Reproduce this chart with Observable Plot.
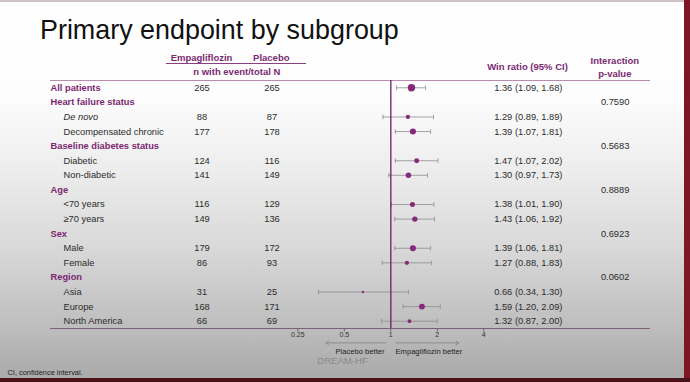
<!DOCTYPE html>
<html>
<head>
<meta charset="utf-8">
<script src="https://cdn.jsdelivr.net/npm/d3@7"></script>
<script src="https://cdn.jsdelivr.net/npm/@observablehq/plot@0.6"></script>
<style>
html, body { margin: 0; padding: 0; }
body {
  width: 690px; height: 382px; overflow: hidden; position: relative;
  font-family: "Liberation Sans", Arial, sans-serif;
  background: linear-gradient(to bottom, #ffffff 0px, #fdfdfd 95px, #ededed 170px, #d8d8d8 250px, #c0c0c0 320px, #aaaaaa 377px);
}
#title { height: 50px; box-sizing: border-box; padding: 15px 0 0 40px; font-size: 26.9px; line-height: 30px; color: #111; white-space: nowrap; }
#header { position: relative; height: 28px; }
#header span { position: absolute; white-space: nowrap; font-weight: bold; color: #7b2a71; font-size: 9.5px; line-height: 1; transform: translate(-50%, -50%); }
#under { position: absolute; left: 166px; width: 140px; top: 12.5px; border-top: 1px solid #8b3f82; }
#chart { position: relative; }
.edge-top { position: absolute; left: 0; top: 0; width: 690px; height: 2px; background: #cfc3c5; }
.edge-right { position: absolute; right: 0; top: 0; width: 6px; height: 382px; background: #7e1626; }
.edge-bottom { position: absolute; left: 0; bottom: 0; width: 690px; height: 4px; background: #4a1119; }
</style>
</head>
<body>
<div class="edge-top"></div>
<div id="title">Primary endpoint by subgroup</div>
<div id="header">
  <span style="left:201.5px; top:7.7px;">Empagliflozin</span>
  <span style="left:271.3px; top:7.7px;">Placebo</span>
  <div id="under"></div>
  <span style="left:236.8px; top:22px;">n with event/total N</span>
  <span style="left:527.5px; top:17px;">Win ratio (95% CI)</span>
  <span style="left:614.8px; top:11px;">Interaction</span>
  <span style="left:614.8px; top:24px;">p-value</span>
</div>
<div id="chart"></div>
<div class="edge-right"></div>
<div class="edge-bottom"></div>
<script>
// ---- data ----
const subgroups = ["All patients", "Heart failure status", "De novo", "Decompensated chronic",
  "Baseline diabetes status", "Diabetic", "Non-diabetic", "Age", "<70 years", "\u226570 years",
  "Sex", "Male", "Female", "Region", "Asia", "Europe", "North America"];
const rowType = ["group", "group", "sub", "sub", "group", "sub", "sub", "group", "sub", "sub",
  "group", "sub", "sub", "group", "sub", "sub", "sub"];
const italicLabels = ["De novo"];
const empaEvents    = [265, null, 88, 177, null, 124, 141, null, 116, 149, null, 179, 86, null, 31, 168, 66];
const placeboEvents = [265, null, 87, 178, null, 116, 149, null, 129, 136, null, 172, 93, null, 25, 171, 69];
const winRatio = [1.36, null, 1.29, 1.39, null, 1.47, 1.30, null, 1.38, 1.43, null, 1.39, 1.27, null, 0.66, 1.59, 1.32];
const ciLow    = [1.09, null, 0.89, 1.07, null, 1.07, 0.97, null, 1.01, 1.06, null, 1.06, 0.88, null, 0.34, 1.20, 0.87];
const ciHigh   = [1.68, null, 1.89, 1.81, null, 2.02, 1.73, null, 1.90, 1.92, null, 1.81, 1.83, null, 1.30, 2.09, 2.00];
const interactionP = [null, "0.7590", null, null, "0.5683", null, null, "0.8889", null, null,
  "0.6923", null, null, "0.0602", null, null, null];
const xTicks = [0.25, 0.5, 1, 2, 4];
const arrowSpans = [{from: 0.93, to: 0.38}, {from: 1.08, to: 2.75}];
const arrowLabels = ["Placebo better", "Empagliflozin better"];
const brand = "DREAM-HF";
const footnote = "CI, confidence interval.";

// ---- build ----
const rows = subgroups.map((label, i) => ({
  i, label, type: rowType[i], empa: empaEvents[i], placebo: placeboEvents[i],
  wr: winRatio[i], lo: ciLow[i], hi: ciHigh[i], p: interactionP[i]
}));
const est = rows.filter(d => d.wr != null).map(d => ({
  ...d, n: d.empa + d.placebo,
  txt: `${d.wr.toFixed(2)} (${d.lo.toFixed(2)}, ${d.hi.toFixed(2)})`
}));
const last = rows.length - 1;
const capSymbol = {
  draw(context, size) {
    const h = Math.sqrt(size / Math.PI);
    context.moveTo(0, -h);
    context.lineTo(0, h);
  }
};
const downTick = {
  draw(context, size) {
    const h = Math.sqrt(size / Math.PI);
    context.moveTo(0, 0);
    context.lineTo(0, h);
  }
};
const purple = "#7b2771";
const textColor = "#2b2b2b";

const chart = Plot.plot({
  width: 690, height: 304,
  marginLeft: 50, marginRight: 40, marginTop: 2, marginBottom: 54,
  style: {background: "transparent", fontFamily: "'Liberation Sans', Arial, sans-serif", fontSize: "9.3px", overflow: "visible", color: textColor},
  x: {type: "log", domain: [0.00626, 48], label: null, axis: null},
  y: {domain: [-0.5, rows.length - 0.5], reverse: true, axis: null},
  r: {type: "sqrt", domain: [0, 530], range: [0, 3.7]},
  marks: [
    Plot.ruleY([-0.5], {stroke: "#b88cb1", strokeWidth: 1.2}),
    Plot.ruleY([rows.length - 0.5], {stroke: "#7d6079", strokeWidth: 1}),
    // x axis ticks + labels
    Plot.dot(xTicks, {x: d => d, frameAnchor: "bottom", r: 3, symbol: downTick, stroke: "#666", strokeWidth: 1}),
    Plot.text(xTicks, {x: d => d, text: d => String(d), frameAnchor: "bottom", dy: 8.4, fontSize: 7, fill: "#333"}),
    // table
    Plot.text(rows.filter(d => d.type === "group"), {y: "i", text: "label", frameAnchor: "left", textAnchor: "start", fill: purple, fontWeight: "bold"}),
    Plot.text(rows.filter(d => d.type === "sub" && !italicLabels.includes(d.label)), {y: "i", text: "label", frameAnchor: "left", dx: 13, textAnchor: "start", fill: textColor}),
    Plot.text(rows.filter(d => italicLabels.includes(d.label)), {y: "i", text: "label", frameAnchor: "left", dx: 13, textAnchor: "start", fill: textColor, fontStyle: "italic"}),
    Plot.text(est, {y: "i", text: d => String(d.empa), frameAnchor: "left", dx: 151.5, textAnchor: "middle", fill: textColor}),
    Plot.text(est, {y: "i", text: d => String(d.placebo), frameAnchor: "left", dx: 221.5, textAnchor: "middle", fill: textColor}),
    Plot.text(est, {y: "i", text: "txt", frameAnchor: "left", dx: 443.7, textAnchor: "start", fill: textColor}),
    Plot.text(rows.filter(d => d.p), {y: "i", text: "p", frameAnchor: "left", dx: 564.6, textAnchor: "middle", fill: textColor}),
    // forest
    Plot.ruleY(est, {y: "i", x1: "lo", x2: "hi", stroke: "#8d8d8d", strokeWidth: 0.8}),
    Plot.dot(est, {x: "lo", y: "i", r: 2.3, symbol: capSymbol, stroke: "#8d8d8d", strokeWidth: 0.8}),
    Plot.dot(est, {x: "hi", y: "i", r: 2.3, symbol: capSymbol, stroke: "#8d8d8d", strokeWidth: 0.8}),
    Plot.ruleX([1], {stroke: "#6d1f62", strokeWidth: 1.3}),
    Plot.dot(est, {x: "wr", y: "i", r: "n", fill: "#85297a"}),
    // annotations
    Plot.arrow(arrowSpans, {x1: "from", x2: "to", y1: () => last, y2: () => last, dy: 21.7, stroke: "#8c8c8c", strokeWidth: 1, headLength: 5, headAngle: 70}),
    Plot.text([1], {x: d => d, text: () => arrowLabels[0], frameAnchor: "bottom", dx: -6.3, dy: 25, textAnchor: "end", fontSize: 7.6, fill: "#222"}),
    Plot.text([1], {x: d => d, text: () => arrowLabels[1], frameAnchor: "bottom", dx: 4.7, dy: 25, textAnchor: "start", fontSize: 7.6, fill: "#222"}),
    Plot.text([brand], {frameAnchor: "bottom-left", dx: 266.7, dy: 35, textAnchor: "start", fontSize: 9.6, fill: "#8a8a8a"}),
    Plot.text([footnote], {frameAnchor: "bottom-left", dx: -43, dy: 46, textAnchor: "start", fontSize: 7.4, fill: "#1e1e1e"})
  ]
});
document.getElementById("chart").appendChild(chart);
</script>
</body>
</html>
